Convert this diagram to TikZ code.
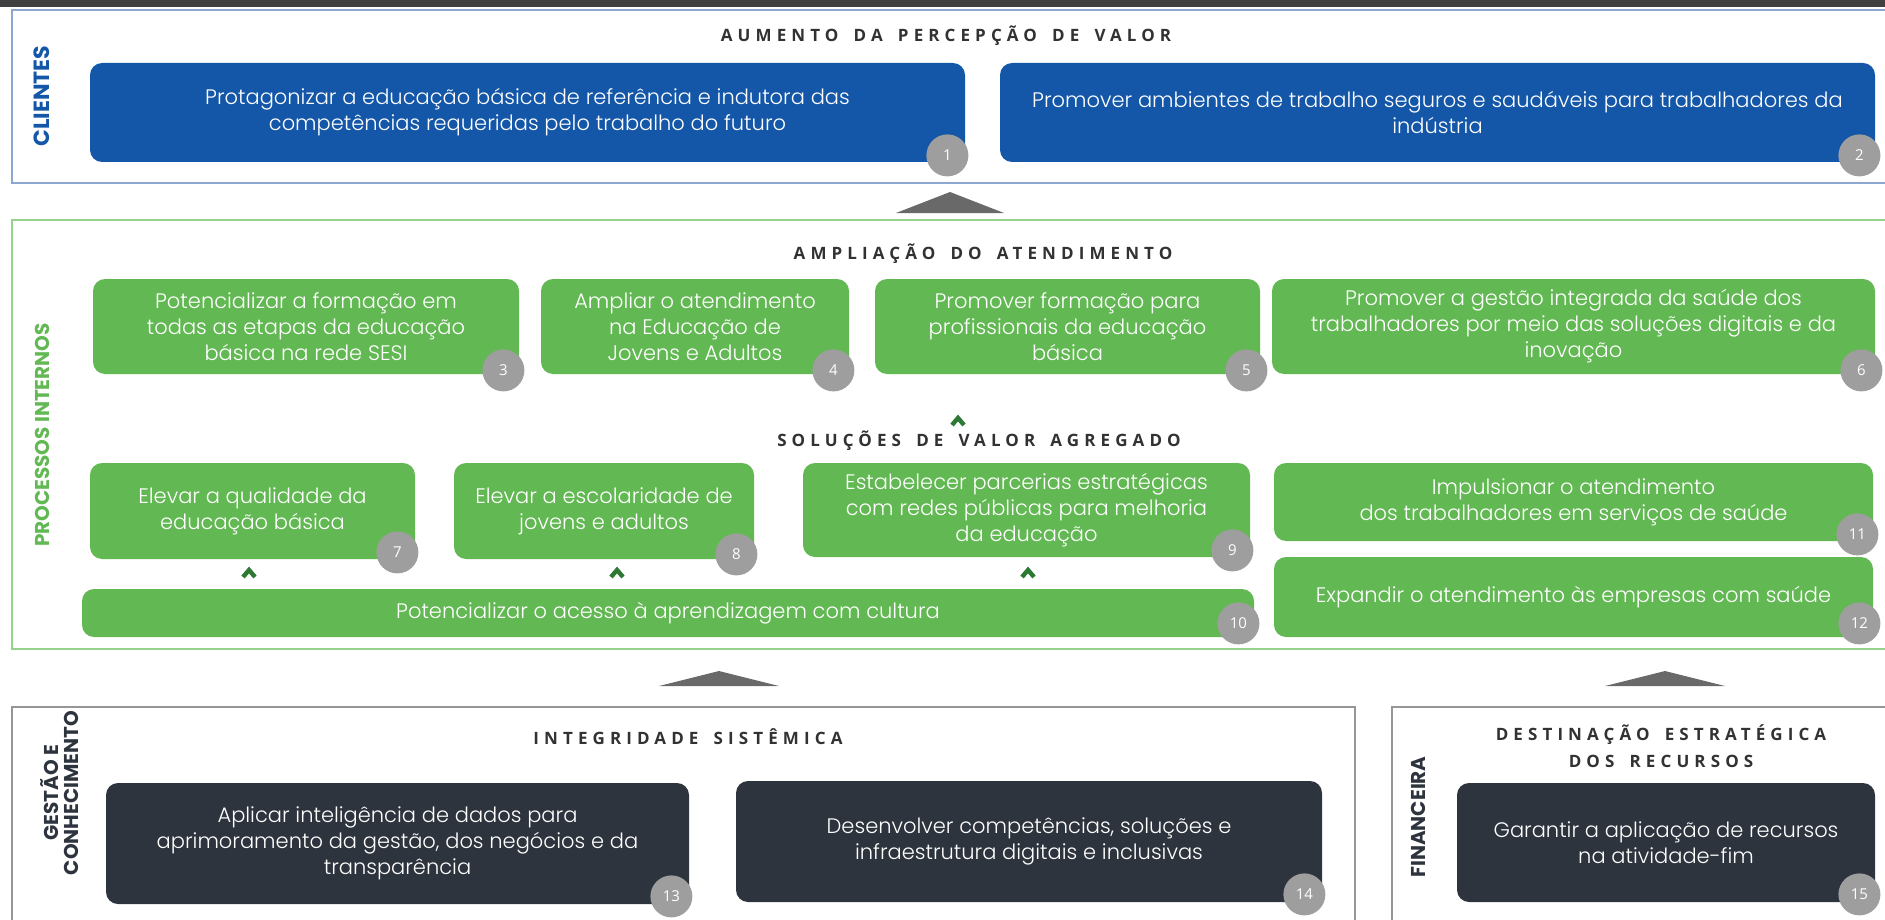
\documentclass[tikz,border=0pt]{standalone}
\usepackage{fontspec}
\setmainfont{Poppins}[UprightFont=* Light]
\newfontfamily\headfont{Open Sans}[LetterSpace=30,WordSpace=1.6]
\newfontfamily\sidefont{Poppins}
\newfontfamily\badgefont{Open Sans}
\usepackage{tikz}

\definecolor{clblue}{RGB}{20,87,168}
\definecolor{pigreen}{RGB}{98,184,82}
\definecolor{gcdark}{RGB}{46,52,62}
\definecolor{badgegray}{RGB}{158,158,158}
\definecolor{headgray}{RGB}{50,50,50}
\definecolor{clframe}{RGB}{140,168,206}
\definecolor{piframe}{RGB}{150,210,140}
\definecolor{gcframe}{RGB}{150,150,150}
\definecolor{trigray}{RGB}{105,105,105}
\definecolor{chevgreen}{RGB}{45,120,50}

\begin{document}
\begin{tikzpicture}[x=0.5pt,y=-0.5pt,
    goal/.style={rounded corners=6pt,text=white,align=center,inner sep=0pt,font=\fontsize{10.5}{13}\selectfont},
    bluegoal/.style={goal,fill=clblue},
    greengoal/.style={goal,fill=pigreen},
    darkgoal/.style={goal,fill=gcdark},
    badge/.style={circle,fill=badgegray,text=white,minimum size=21pt,inner sep=0pt,font=\badgefont\fontsize{7.5}{8}\selectfont},
    heading/.style={text=headgray,font=\headfont\bfseries\fontsize{8.5}{13.5}\selectfont},
    side/.style={rotate=90,align=center,font=\sidefont\bfseries\fontsize{10}{10}\selectfont},
    frame/.style={line width=1pt},
    tri/.style={fill=trigray},
    chev/.style={draw=chevgreen,line width=2.2pt}]

    \useasboundingbox (0,0) rectangle (1885,920);
    \fill[black!75] (0,0) rectangle (1885,7);

    \draw[frame,draw=clframe] (12,10) rectangle (1900,183);
    \draw[frame,draw=piframe] (12,220) rectangle (1900,649);
    \draw[frame,draw=gcframe] (12,707) rectangle (1355,930);
    \draw[frame,draw=gcframe] (1392,707) rectangle (1900,930);

    \node[side,text=clblue,font=\sidefont\bfseries\fontsize{11}{11}\selectfont] (sclient) at (42,96) {CLIENTES};
    \node[side,text=pigreen] (sproc) at (42,435) {PROCESSOS INTERNOS};
    \node[side,text=gcdark] (sgest) at (60,793) {GESTÃO E\\CONHECIMENTO};
    \node[side,text=gcdark] (sfin) at (1418,817) {FINANCEIRA};

    \node[heading] (hclient) at (946,36) {AUMENTO DA PERCEPÇÃO DE VALOR};
    \node[heading] (hampl) at (983,254) {AMPLIAÇÃO DO ATENDIMENTO};
    \node[heading] (hsol) at (979,441) {SOLUÇÕES DE VALOR AGREGADO};
    \node[heading] (hinteg) at (688,737) {INTEGRIDADE SISTÊMICA};
    \node[heading,align=center] (hdest) at (1661,746) {DESTINAÇÃO ESTRATÉGICA\\DOS RECURSOS};

    \node[bluegoal,minimum width=437.5pt,minimum height=49.5pt] (c1) at (527.5,112.5) {Protagonizar a educação básica de referência e indutora das\\competências requeridas pelo trabalho do futuro};
    \node[bluegoal,minimum width=437.5pt,minimum height=49.5pt] (c2) at (1437.5,112.5) {Promover ambientes de trabalho seguros e saudáveis para trabalhadores da\\indústria};

    \node[greengoal,minimum width=213pt,minimum height=47.5pt] (p3) at (306,326.5) {Potencializar a formação em\\todas as etapas da educação\\básica na rede SESI};
    \node[greengoal,minimum width=154pt,minimum height=47.5pt] (p4) at (695,326.5) {Ampliar o atendimento\\na Educação de\\Jovens e Adultos};
    \node[greengoal,minimum width=192.5pt,minimum height=47.5pt] (p5) at (1067.5,326.5) {Promover formação para\\profissionais da educação\\básica};
    \node[greengoal,minimum width=301.5pt,minimum height=47.5pt] (p6) at (1573.5,326.5) {Promover a gestão integrada da saúde dos\\trabalhadores por meio das soluções digitais e da\\inovação};

    \node[greengoal,minimum width=162.5pt,minimum height=48pt] (p7) at (252.5,511) {Elevar a qualidade da\\educação básica};
    \node[greengoal,minimum width=150pt,minimum height=48pt] (p8) at (604,511) {Elevar a escolaridade de\\jovens e adultos};
    \node[greengoal,minimum width=223.5pt,minimum height=47pt] (p9) at (1026.5,510) {Estabelecer parcerias estratégicas\\com redes públicas para melhoria\\da educação};
    \node[greengoal,minimum width=586pt,minimum height=24pt] (p10) at (668,613) {Potencializar o acesso à aprendizagem com cultura};
    \node[greengoal,minimum width=299.5pt,minimum height=39pt] (p11) at (1573.5,502) {Impulsionar o atendimento\\dos trabalhadores em serviços de saúde};
    \node[greengoal,minimum width=299.5pt,minimum height=40pt] (p12) at (1573.5,597) {Expandir o atendimento às empresas com saúde};

    \node[darkgoal,minimum width=291.5pt,minimum height=60.5pt] (g13) at (397.5,843.5) {Aplicar inteligência de dados para\\aprimoramento da gestão, dos negócios e da\\transparência};
    \node[darkgoal,minimum width=293pt,minimum height=60.5pt] (g14) at (1029,841.5) {Desenvolver competências, soluções e\\infraestrutura digitais e inclusivas};
    \node[darkgoal,minimum width=209pt,minimum height=59.5pt] (f15) at (1666,842.5) {Garantir a aplicação de recursos\\na atividade-fim};

    \node[badge] (n1) at ([shift={(-18,-7)}]c1.south east) {1};
    \node[badge] (n2) at ([shift={(-16,-7)}]c2.south east) {2};
    \node[badge] (n3) at ([shift={(-16,-4)}]p3.south east) {3};
    \node[badge] (n4) at ([shift={(-16,-4)}]p4.south east) {4};
    \node[badge] (n5) at ([shift={(-14,-4)}]p5.south east) {5};
    \node[badge] (n6) at ([shift={(-14,-4)}]p6.south east) {6};
    \node[badge] (n7) at ([shift={(-18,-7)}]p7.south east) {7};
    \node[badge] (n8) at ([shift={(-18,-5)}]p8.south east) {8};
    \node[badge] (n9) at ([shift={(-18,-7)}]p9.south east) {9};
    \node[badge] (n10) at ([shift={(-16,-14)}]p10.south east) {10};
    \node[badge] (n11) at ([shift={(-16,-7)}]p11.south east) {11};
    \node[badge] (n12) at ([shift={(-14,-14)}]p12.south east) {12};
    \node[badge] (n13) at ([shift={(-18,-8)}]g13.south east) {13};
    \node[badge] (n14) at ([shift={(-18,-8)}]g14.south east) {14};
    \node[badge] (n15) at ([shift={(-16,-8)}]f15.south east) {15};

    \fill[tri] (896,213) -- (950,192) -- (1004,213) -- cycle;
    \fill[tri] (659,686) -- (719,671) -- (779,686) -- cycle;
    \fill[tri] (1605,686) -- (1665,671) -- (1725,686) -- cycle;

    \draw[chev] (952,425) -- (958,418) -- (964,425);
    \draw[chev] (243,577) -- (249,570) -- (255,577);
    \draw[chev] (611,577) -- (617,570) -- (623,577);
    \draw[chev] (1022,577) -- (1028,570) -- (1034,577);
\end{tikzpicture}
\end{document}
